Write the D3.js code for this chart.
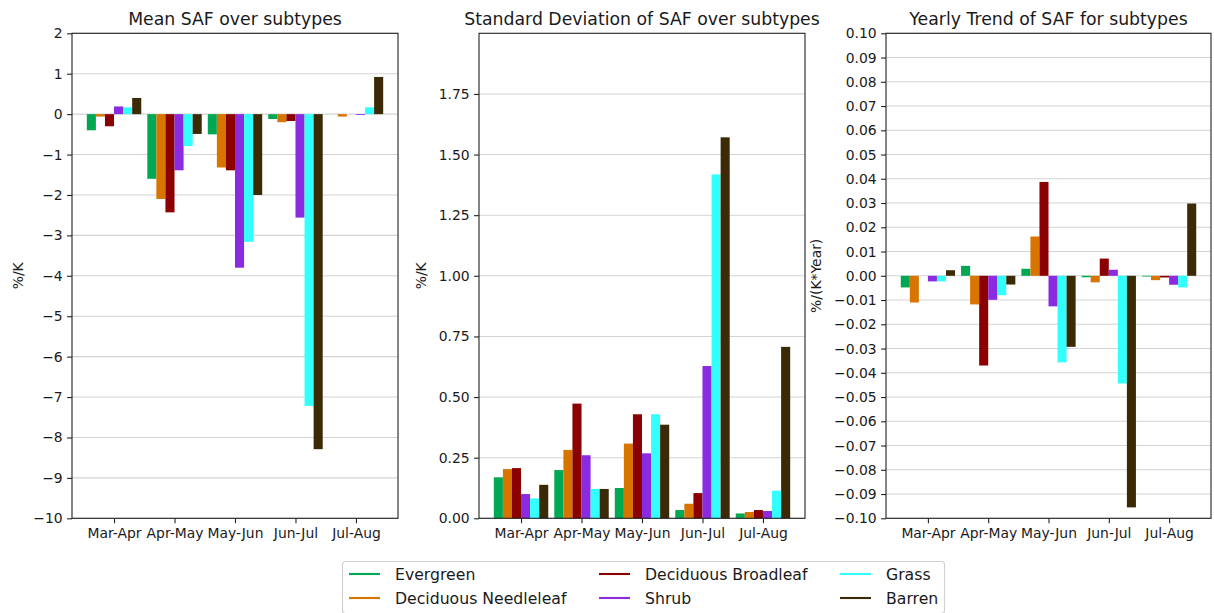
<!DOCTYPE html>
<html>
<head>
<meta charset="utf-8">
<script src="https://cdn.jsdelivr.net/npm/d3@7"></script>
<style>
  html, body { margin: 0; padding: 0; background: #fff; }
  svg { display: block; font-family: "DejaVu Sans", sans-serif; }
</style>
</head>
<body>
<svg id="chart" width="1214" height="613"></svg>
<script>
// Two-month windows and land-cover subtypes
const periods = ["Mar-Apr", "Apr-May", "May-Jun", "Jun-Jul", "Jul-Aug"];
const subtypes = ["Evergreen", "Deciduous Needleleaf", "Deciduous Broadleaf", "Shrub", "Grass", "Barren"];
const subtypeColors = ["#00a853", "#d87400", "#8b0000", "#8a2be2", "#33ffff", "#3b2a05"];

// Mean SAF (%/K), one row per subtype, one value per period
const meanEvergreen   = [-0.40, -1.60, -0.50, -0.12,  0.00];
const meanNeedleleaf  = [-0.06, -2.10, -1.32, -0.20, -0.06];
const meanBroadleaf   = [-0.30, -2.43, -1.39, -0.17,  0.00];
const meanShrub       = [ 0.19, -1.39, -3.80, -2.56, -0.02];
const meanGrass       = [ 0.17, -0.79, -3.16, -7.22,  0.17];
const meanBarren      = [ 0.40, -0.49, -2.00, -8.29,  0.92];

// Standard deviation of SAF (%/K)
const sdEvergreen  = [0.169, 0.199, 0.125, 0.034, 0.020];
const sdNeedleleaf = [0.203, 0.282, 0.308, 0.060, 0.026];
const sdBroadleaf  = [0.207, 0.473, 0.429, 0.104, 0.034];
const sdShrub      = [0.100, 0.260, 0.268, 0.628, 0.030];
const sdGrass      = [0.082, 0.121, 0.429, 1.418, 0.114];
const sdBarren     = [0.138, 0.121, 0.386, 1.571, 0.707];

// Yearly trend of SAF (%/(K*Year))
const trendEvergreen  = [-0.0048,  0.0041,  0.0029, -0.0006, -0.0003];
const trendNeedleleaf = [-0.0110, -0.0118,  0.0162, -0.0027, -0.0018];
const trendBroadleaf  = [ 0.0000, -0.0370,  0.0387,  0.0071, -0.0007];
const trendShrub      = [-0.0023, -0.0099, -0.0126,  0.0025, -0.0037];
const trendGrass      = [-0.0023, -0.0080, -0.0357, -0.0444, -0.0048];
const trendBarren     = [ 0.0023, -0.0036, -0.0293, -0.0955,  0.0298];

// Tick values for each panel
const meanTicks  = [-10, -9, -8, -7, -6, -5, -4, -3, -2, -1, 0, 1, 2];
const sdTicks    = [0, 0.25, 0.5, 0.75, 1.0, 1.25, 1.5, 1.75];
const trendTicks = [-0.10, -0.09, -0.08, -0.07, -0.06, -0.05, -0.04, -0.03, -0.02, -0.01,
                    0.00, 0.01, 0.02, 0.03, 0.04, 0.05, 0.06, 0.07, 0.08, 0.09, 0.10];

const panels = [
  { title: "Mean SAF over subtypes", ylabel: "%/K", left: 72, right: 398, labelX: 18,
    domain: [-10, 2], ticks: meanTicks, fmt: d3.format("d"),
    series: [meanEvergreen, meanNeedleleaf, meanBroadleaf, meanShrub, meanGrass, meanBarren] },
  { title: "Standard Deviation of SAF over subtypes", ylabel: "%/K", left: 479, right: 805, labelX: 421,
    domain: [0, 2.0], ticks: sdTicks, fmt: d3.format(".2f"),
    series: [sdEvergreen, sdNeedleleaf, sdBroadleaf, sdShrub, sdGrass, sdBarren] },
  { title: "Yearly Trend of SAF for subtypes", ylabel: "%/(K*Year)", left: 886, right: 1211, labelX: 816,
    domain: [-0.1, 0.1], ticks: trendTicks, fmt: d3.format(".2f"),
    series: [trendEvergreen, trendNeedleleaf, trendBroadleaf, trendShrub, trendGrass, trendBarren] }
];

const plotTop = 33.3, plotBottom = 518.3;
const barW = 0.15;
const svg = d3.select("#chart");
const minus = s => s.replace("-", "\u2212");

panels.forEach(p => {
  const x = d3.scaleLinear().domain([-0.695, 4.695]).range([p.left, p.right]);
  const y = d3.scaleLinear().domain(p.domain).range([plotBottom, plotTop]);
  const g = svg.append("g");

  // horizontal grid
  g.append("g").selectAll("line").data(p.ticks).join("line")
    .attr("x1", p.left).attr("x2", p.right)
    .attr("y1", d => y(d)).attr("y2", d => y(d))
    .attr("stroke", "#d4d4d4").attr("stroke-width", 1.1);

  // bars
  p.series.forEach((vals, si) => {
    g.append("g").selectAll("rect").data(vals).join("rect")
      .attr("x", (v, ci) => x(ci + (si - 2.5) * barW - barW / 2))
      .attr("width", x(barW) - x(0))
      .attr("y", v => y(Math.max(0, v)))
      .attr("height", v => Math.abs(y(v) - y(0)))
      .attr("fill", subtypeColors[si]);
  });

  // y axis
  const yAxis = d3.axisLeft(y).tickValues(p.ticks).tickSize(4.9).tickPadding(4.5)
    .tickFormat(d => minus(p.fmt(d)));
  const ya = g.append("g").attr("transform", `translate(${p.left},0)`).call(yAxis);
  ya.select(".domain").remove();

  // x axis
  const xAxis = d3.axisBottom(x).tickValues(d3.range(periods.length)).tickSize(4.9).tickPadding(4.5)
    .tickFormat(i => periods[i]);
  const xa = g.append("g").attr("transform", `translate(0,${plotBottom})`).call(xAxis);
  xa.select(".domain").remove();

  [ya, xa].forEach(a => {
    a.selectAll("text").attr("font-size", 13.9).attr("fill", "#1a1a1a")
      .attr("font-family", "DejaVu Sans");
    a.selectAll("line").attr("stroke", "#222").attr("stroke-width", 1.1);
  });

  // frame
  g.append("rect").attr("x", p.left).attr("y", plotTop)
    .attr("width", p.right - p.left).attr("height", plotBottom - plotTop)
    .attr("fill", "none").attr("stroke", "#222").attr("stroke-width", 1.1);

  // title
  g.append("text").attr("x", (p.left + p.right) / 2).attr("y", plotTop - 8.8)
    .attr("text-anchor", "middle").attr("font-size", 17.3).attr("fill", "#1a1a1a")
    .text(p.title);

  // y label
  g.append("text")
    .attr("transform", `translate(${p.labelX},${(plotTop + plotBottom) / 2}) rotate(-90)`)
    .attr("text-anchor", "middle").attr("dominant-baseline", "central")
    .attr("font-size", 13.9).attr("fill", "#1a1a1a")
    .text(p.ylabel);
});

// legend: three columns, two rows, filled column by column
const legend = svg.append("g");
legend.append("rect").attr("x", 342.5).attr("y", 561.5).attr("width", 602).attr("height", 52)
  .attr("rx", 3).attr("fill", "#fff").attr("fill-opacity", 0.8)
  .attr("stroke", "#d0d0d0").attr("stroke-width", 1.1);
const colX = [349, 599, 840];
const rowY = [574, 598];
subtypes.forEach((name, i) => {
  const cx = colX[Math.floor(i / 2)], cy = rowY[i % 2];
  legend.append("line").attr("x1", cx).attr("x2", cx + 31).attr("y1", cy).attr("y2", cy)
    .attr("stroke", subtypeColors[i]).attr("stroke-width", 2.1);
  legend.append("text").attr("x", cx + 46).attr("y", cy).attr("dy", "0.36em")
    .attr("font-size", 15.7).attr("fill", "#1a1a1a").text(name);
});
</script>
</body>
</html>
